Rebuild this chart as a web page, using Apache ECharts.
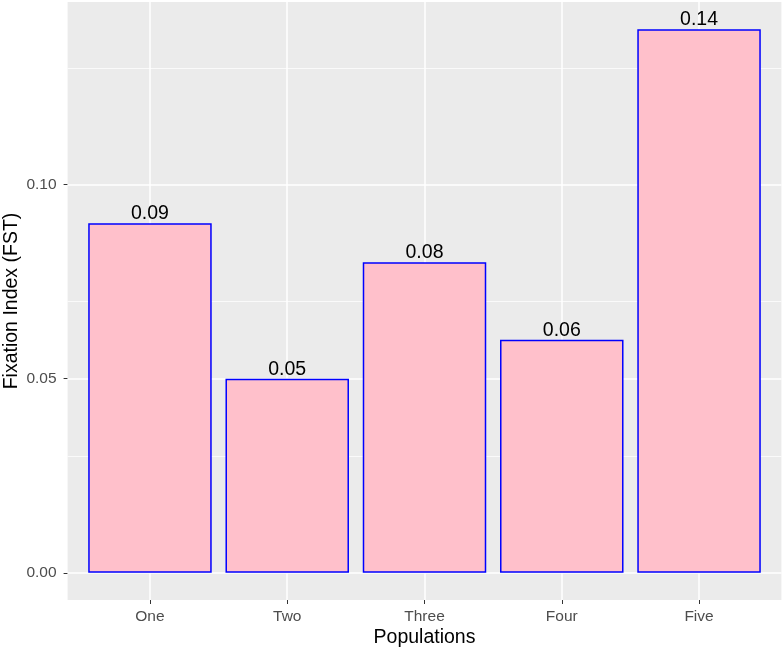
<!DOCTYPE html>
<html>
<head>
<meta charset="utf-8">
<script src="https://cdn.jsdelivr.net/npm/echarts@6/dist/echarts.min.js"></script>
<style>
html,body{margin:0;padding:0;background:#fff;}
#chart{width:784px;height:651px;}
</style>
</head>
<body>
<div id="chart"></div>
<script>
const categories = ['One', 'Two', 'Three', 'Four', 'Five'];
const fstValues = [0.09, 0.05, 0.08, 0.06, 0.14];
const yTicks = [0, 0.05, 0.10];
const yMinor = [0.025, 0.075, 0.125];
const xTicks = [0, 1, 2, 3, 4];

const FONT = '"Liberation Sans", Arial, Helvetica, sans-serif';
const chart = echarts.init(document.getElementById('chart'));

const gridLines = [];
xTicks.forEach(v => gridLines.push({ xAxis: v, lineStyle: { width: 1.5 } }));
yTicks.forEach(v => gridLines.push({ yAxis: v, lineStyle: { width: 1.5 } }));
yMinor.forEach(v => gridLines.push({ yAxis: v, lineStyle: { width: 0.75 } }));

chart.setOption({
  animation: false,
  textStyle: { fontFamily: FONT },
  grid: {
    left: 67.6, right: 2.6, top: 2, bottom: 51,
    show: true, backgroundColor: '#EBEBEB', borderWidth: 0,
    containLabel: false, outerBoundsMode: 'none'
  },
  xAxis: {
    type: 'value', min: -0.6, max: 4.6,
    name: 'Populations', nameLocation: 'middle', nameGap: 28, nameMoveOverlap: false,
    nameTextStyle: { fontSize: 19.5, color: '#000', fontFamily: FONT },
    axisLine: { show: false, onZero: false },
    axisTick: { show: true, length: 4, customValues: xTicks, lineStyle: { color: '#333333', width: 1 } },
    axisLabel: {
      customValues: xTicks, margin: 9, fontSize: 15.5, color: '#4D4D4D', fontFamily: FONT,
      formatter: v => categories[Math.round(v)]
    },
    splitLine: { show: false }, minorSplitLine: { show: false }
  },
  yAxis: {
    type: 'value', min: -0.007, max: 0.147,
    name: 'Fixation Index (FST)', nameLocation: 'middle', nameGap: 45.6, nameMoveOverlap: false,
    nameTextStyle: { fontSize: 19.5, color: '#000', fontFamily: FONT },
    axisLine: { show: false, onZero: false },
    axisTick: { show: true, length: 4, customValues: yTicks, lineStyle: { color: '#333333', width: 1 } },
    axisLabel: {
      customValues: yTicks, margin: 11, fontSize: 15.5, color: '#4D4D4D', fontFamily: FONT,
      formatter: v => v.toFixed(2)
    },
    splitLine: { show: false }, minorSplitLine: { show: false }
  },
  series: [
    {
      type: 'line', data: [], silent: true, z: 1,
      markLine: {
        silent: true, symbol: ['none', 'none'], z: 1,
        label: { show: false },
        lineStyle: { color: '#FFFFFF', type: 'solid' },
        emphasis: { disabled: true },
        data: gridLines
      }
    },
    {
      type: 'bar', z: 3,
      barWidth: 123.5,
      data: fstValues.map((v, i) => [i, v]),
      itemStyle: { color: '#FFC0CB', borderColor: '#0000FF', borderWidth: 1.5 },
      label: {
        show: true, position: 'top', distance: -0.5, fontSize: 19.5, color: '#000', fontFamily: FONT,
        formatter: p => p.value[1].toFixed(2)
      }
    }
  ]
});
</script>
</body>
</html>
